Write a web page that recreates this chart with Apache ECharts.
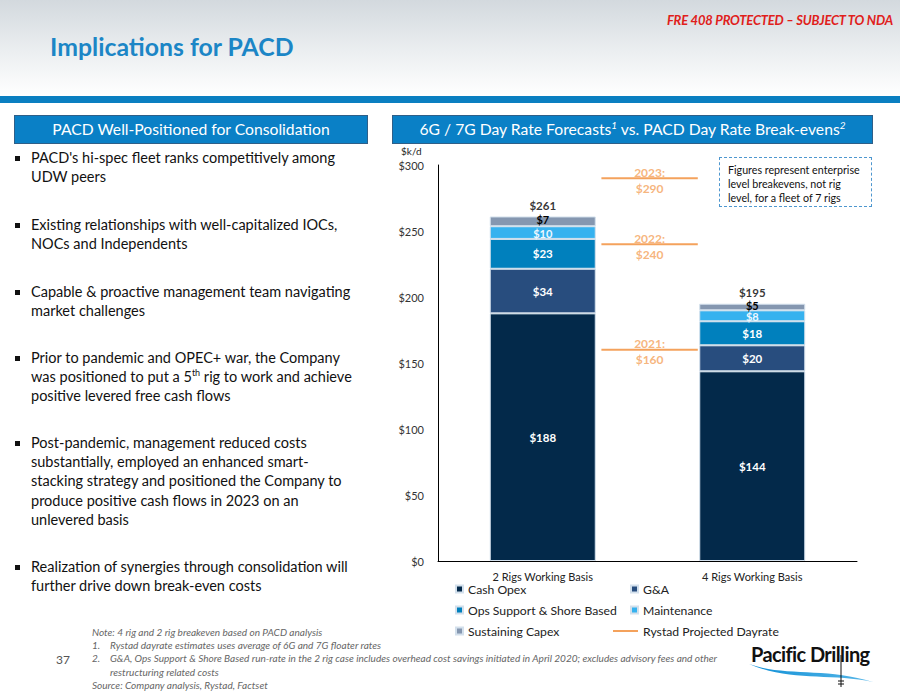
<!DOCTYPE html>
<html>
<head>
<meta charset="utf-8">
<script src="https://cdn.jsdelivr.net/npm/echarts@6/dist/echarts.min.js"></script>
<style>
  html, body { margin:0; padding:0; }
  body { width:900px; height:695px; position:relative; overflow:hidden; background:#fff; font-family: Lato, "Noto Sans", sans-serif; }
  .abs { position:absolute; white-space:nowrap; }
  #hdr { left:0; top:0; width:900px; height:96px; background:linear-gradient(#d3d9de 0%, #eceff1 55%, #ffffff 100%); }
  #bluebar { left:0; top:96px; width:900px; height:7px; background:#0a7fc1; }
  #title { left:50px; top:32px; font-size:24.8px; font-weight:bold; color:#1c86c6; line-height:30px; }
  #nda { right:7px; top:11px; font-size:13px; font-weight:bold; font-style:italic; color:#e0201b; line-height:18px; letter-spacing:-0.2px; }
  .panel { top:115px; height:29px; background:#0a80c6; border:1px solid #2f5f88; box-sizing:border-box; color:#fff; font-size:15.7px; line-height:27px; text-align:center; }
  .panel sup { font-size:10px; font-style:italic; line-height:0; }
  .bul { left:31px; font-size:14.5px; line-height:19.2px; color:#111; }
  .bul::before { content:""; position:absolute; left:-16px; top:8px; width:5px; height:5px; background:#111; }
  .bul sup { font-size:9px; line-height:0; }
  #note { left:92px; top:626px; font-size:10.05px; font-style:italic; color:#666; line-height:13.2px; }
  #note .n { display:inline-block; width:18px; }
  #pg { left:56px; top:652px; font-size:12px; color:#555; }
  #dbox { left:719px; top:157px; width:153px; height:50px; border:1px dashed #4e97cf; box-sizing:border-box; padding:5px 0 0 8px; font-size:10.7px; line-height:14px; color:#111; white-space:nowrap; }
  #logo { left:751px; top:642px; font-size:20px; font-weight:bold; color:#111; letter-spacing:-0.6px; }
  #chart { position:absolute; left:380px; top:145px; width:520px; height:500px; }
</style>
</head>
<body>
<div id="hdr" class="abs"></div>
<div id="bluebar" class="abs"></div>
<div id="title" class="abs">Implications for PACD</div>
<div id="nda" class="abs">FRE 408 PROTECTED – SUBJECT TO NDA</div>

<div class="abs panel" style="left:14px;width:354px;">PACD Well-Positioned for Consolidation</div>
<div class="abs panel" style="left:392px;width:481px;">6G / 7G Day Rate Forecasts<sup>1</sup> vs. PACD Day Rate Break-evens<sup>2</sup></div>

<div class="abs bul" style="top:148px;">PACD's hi-spec fleet ranks competitively among<br>UDW peers</div>
<div class="abs bul" style="top:215px;">Existing relationships with well-capitalized IOCs,<br>NOCs and Independents</div>
<div class="abs bul" style="top:282px;">Capable &amp; proactive management team navigating<br>market challenges</div>
<div class="abs bul" style="top:348px;">Prior to pandemic and OPEC+ war, the Company<br>was positioned to put a 5<sup>th</sup> rig to work and achieve<br>positive levered free cash flows</div>
<div class="abs bul" style="top:433px;">Post-pandemic, management reduced costs<br>substantially, employed an enhanced smart-<br>stacking strategy and positioned the Company to<br>produce positive cash flows in 2023 on an<br>unlevered basis</div>
<div class="abs bul" style="top:557px;">Realization of synergies through consolidation will<br>further drive down break-even costs</div>

<div id="dbox" class="abs">Figures represent enterprise<br>level breakevens, not rig<br>level, for a fleet of 7 rigs</div>

<div id="note" class="abs">Note: 4 rig and 2 rig breakeven based on PACD analysis<br><span class="n">1.</span>Rystad dayrate estimates uses average of 6G and 7G floater rates<br><span class="n">2.</span>G&amp;A, Ops Support &amp; Shore Based run-rate in the 2 rig case includes overhead cost savings initiated in April 2020; excludes advisory fees and other<br><span class="n"></span>restructuring related costs<br>Source: Company analysis, Rystad, Factset</div>
<div id="pg" class="abs">37</div>

<div id="logo" class="abs">Pacific Drilling</div>
<svg class="abs" style="left:740px;top:655px;" width="150" height="40">
  <defs><linearGradient id="wg" x1="0" x2="1"><stop offset="0" stop-color="#0f8fd6"/><stop offset="1" stop-color="#58b7e8"/></linearGradient></defs>
  <path d="M9,9 C45,22 85,12 133,27 C90,18 50,27 9,9 Z" fill="url(#wg)"/>
  <line x1="101" y1="0" x2="101" y2="32" stroke="#111" stroke-width="1"/>
  <path d="M98,26 L104,26 M98,29 L104,29" stroke="#111" stroke-width="1"/>
</svg>

<div id="chart"></div>

<script>
// ---- data ----
const categories = ['2 Rigs Working Basis', '4 Rigs Working Basis'];
const cashOpex = [187.6, 143.7];
const gna = [33.8, 19.7];
const opsSupport = [22.6, 18.2];
const maintenance = [9.6, 8.3];
const sustainingCapex = [7.4, 5.0];
const totals = [261, 195];
const dayrateYears = ['2023', '2022', '2021'];
const dayrates = [290, 240, 160];
const yMin = 0, yMax = 300, yStep = 50;

// ---- layout / style constants ----
const FONT = 'Lato, "Noto Sans", sans-serif';
const RATE_SPAN = [0.78, 1.24];   // position of forecast segments on hidden x scale (0..2)
const RATE_LABEL_X = 1.01;
const ORANGE = '#f4a25c';

const chart = echarts.init(document.getElementById('chart'), null, {renderer: 'svg'});

function barSeries(name, data, color, labelColor, dy, fs) {
  return {
    type: 'bar', name: name, stack: 'cost', data: data, barWidth: 106,
    itemStyle: {color: color, borderColor: '#d3e0ec', borderWidth: 1},
    label: {show: true, position: 'inside', offset: [0, dy || 0], color: labelColor, fontWeight: 'bold', fontSize: fs || 11.5,
            lineHeight: 10, fontFamily: FONT, formatter: p => '$' + Math.round(p.value)}
  };
}

const series = [
  barSeries('Cash Opex', cashOpex, '#03294a', '#fff'),
  barSeries('G&A', gna, '#284d7e', '#fff'),
  barSeries('Ops Support & Shore Based', opsSupport, '#0080bd', '#fff'),
  barSeries('Maintenance', maintenance, '#36b2ef', '#eef8ff', 1, 11),
  barSeries('Sustaining Capex', sustainingCapex, '#8597b0', '#000', -1.5, 11),
  {
    type: 'scatter', name: 'totals', data: totals, symbolSize: 0, silent: true,
    label: {show: true, position: 'top', distance: 5, color: '#000', fontWeight: 'bold', fontSize: 11.5, fontFamily: FONT,
            formatter: p => '$' + p.value}
  }
];
dayrates.forEach(v => {
  series.push({
    type: 'line', name: 'Rystad Projected Dayrate', xAxisIndex: 1, symbol: 'none', silent: true,
    lineStyle: {color: ORANGE, width: 2}, itemStyle: {color: ORANGE},
    data: [[RATE_SPAN[0], v], [RATE_SPAN[1], v]]
  });
});
series.push({
  type: 'scatter', name: 'rateLabels', xAxisIndex: 1, symbolSize: 0, silent: true,
  data: dayrates.map(v => [RATE_LABEL_X, v]),
  label: {show: true, position: 'inside', offset: [0, 2], color: ORANGE, fontWeight: 'bold', fontSize: 12, lineHeight: 16, fontFamily: FONT,
          formatter: p => dayrateYears[p.dataIndex] + ':\n$' + p.value[1]}
});

const legendText = {fontSize: 12.2, color: '#222', lineHeight: 14, fontFamily: FONT};
chart.setOption({
  animation: false,
  textStyle: {fontFamily: FONT},
  grid: {left: 58, right: 43, top: 20, bottom: 84},
  xAxis: [
    {type: 'category', data: categories, axisLine: {lineStyle: {color: '#000', width: 1}}, axisTick: {show: false},
     axisLabel: {fontSize: 11, color: '#222', margin: 10, fontFamily: FONT}},
    {type: 'value', min: 0, max: 2, show: false}
  ],
  yAxis: {type: 'value', min: yMin, max: yMax, interval: yStep,
    axisLine: {show: true, lineStyle: {color: '#000', width: 1}}, axisTick: {show: false}, splitLine: {show: false},
    axisLabel: {fontSize: 11, color: '#333', margin: 14, fontFamily: FONT, formatter: v => '$' + v}},
  legend: [
    {orient: 'vertical', left: 75, top: 437, padding: 0, itemWidth: 7, itemHeight: 7, itemGap: 7, icon: 'rect',
     data: ['Cash Opex', 'Ops Support & Shore Based', 'Sustaining Capex'], textStyle: legendText, selectedMode: false},
    {orient: 'vertical', left: 250, top: 437, padding: 0, itemWidth: 7, itemHeight: 7, itemGap: 7, icon: 'rect',
     data: ['G&A', 'Maintenance'], textStyle: legendText, selectedMode: false},
    {orient: 'vertical', left: 233, top: 479, padding: 0, itemWidth: 25, itemHeight: 2, icon: 'rect',
     data: ['Rystad Projected Dayrate'], textStyle: legendText, selectedMode: false}
  ],
  graphic: [{type: 'text', left: 21, top: 1, style: {text: '$k/d', fontSize: 10, fill: '#222', fontFamily: FONT}}],
  series: series
});
</script>
</body>
</html>
